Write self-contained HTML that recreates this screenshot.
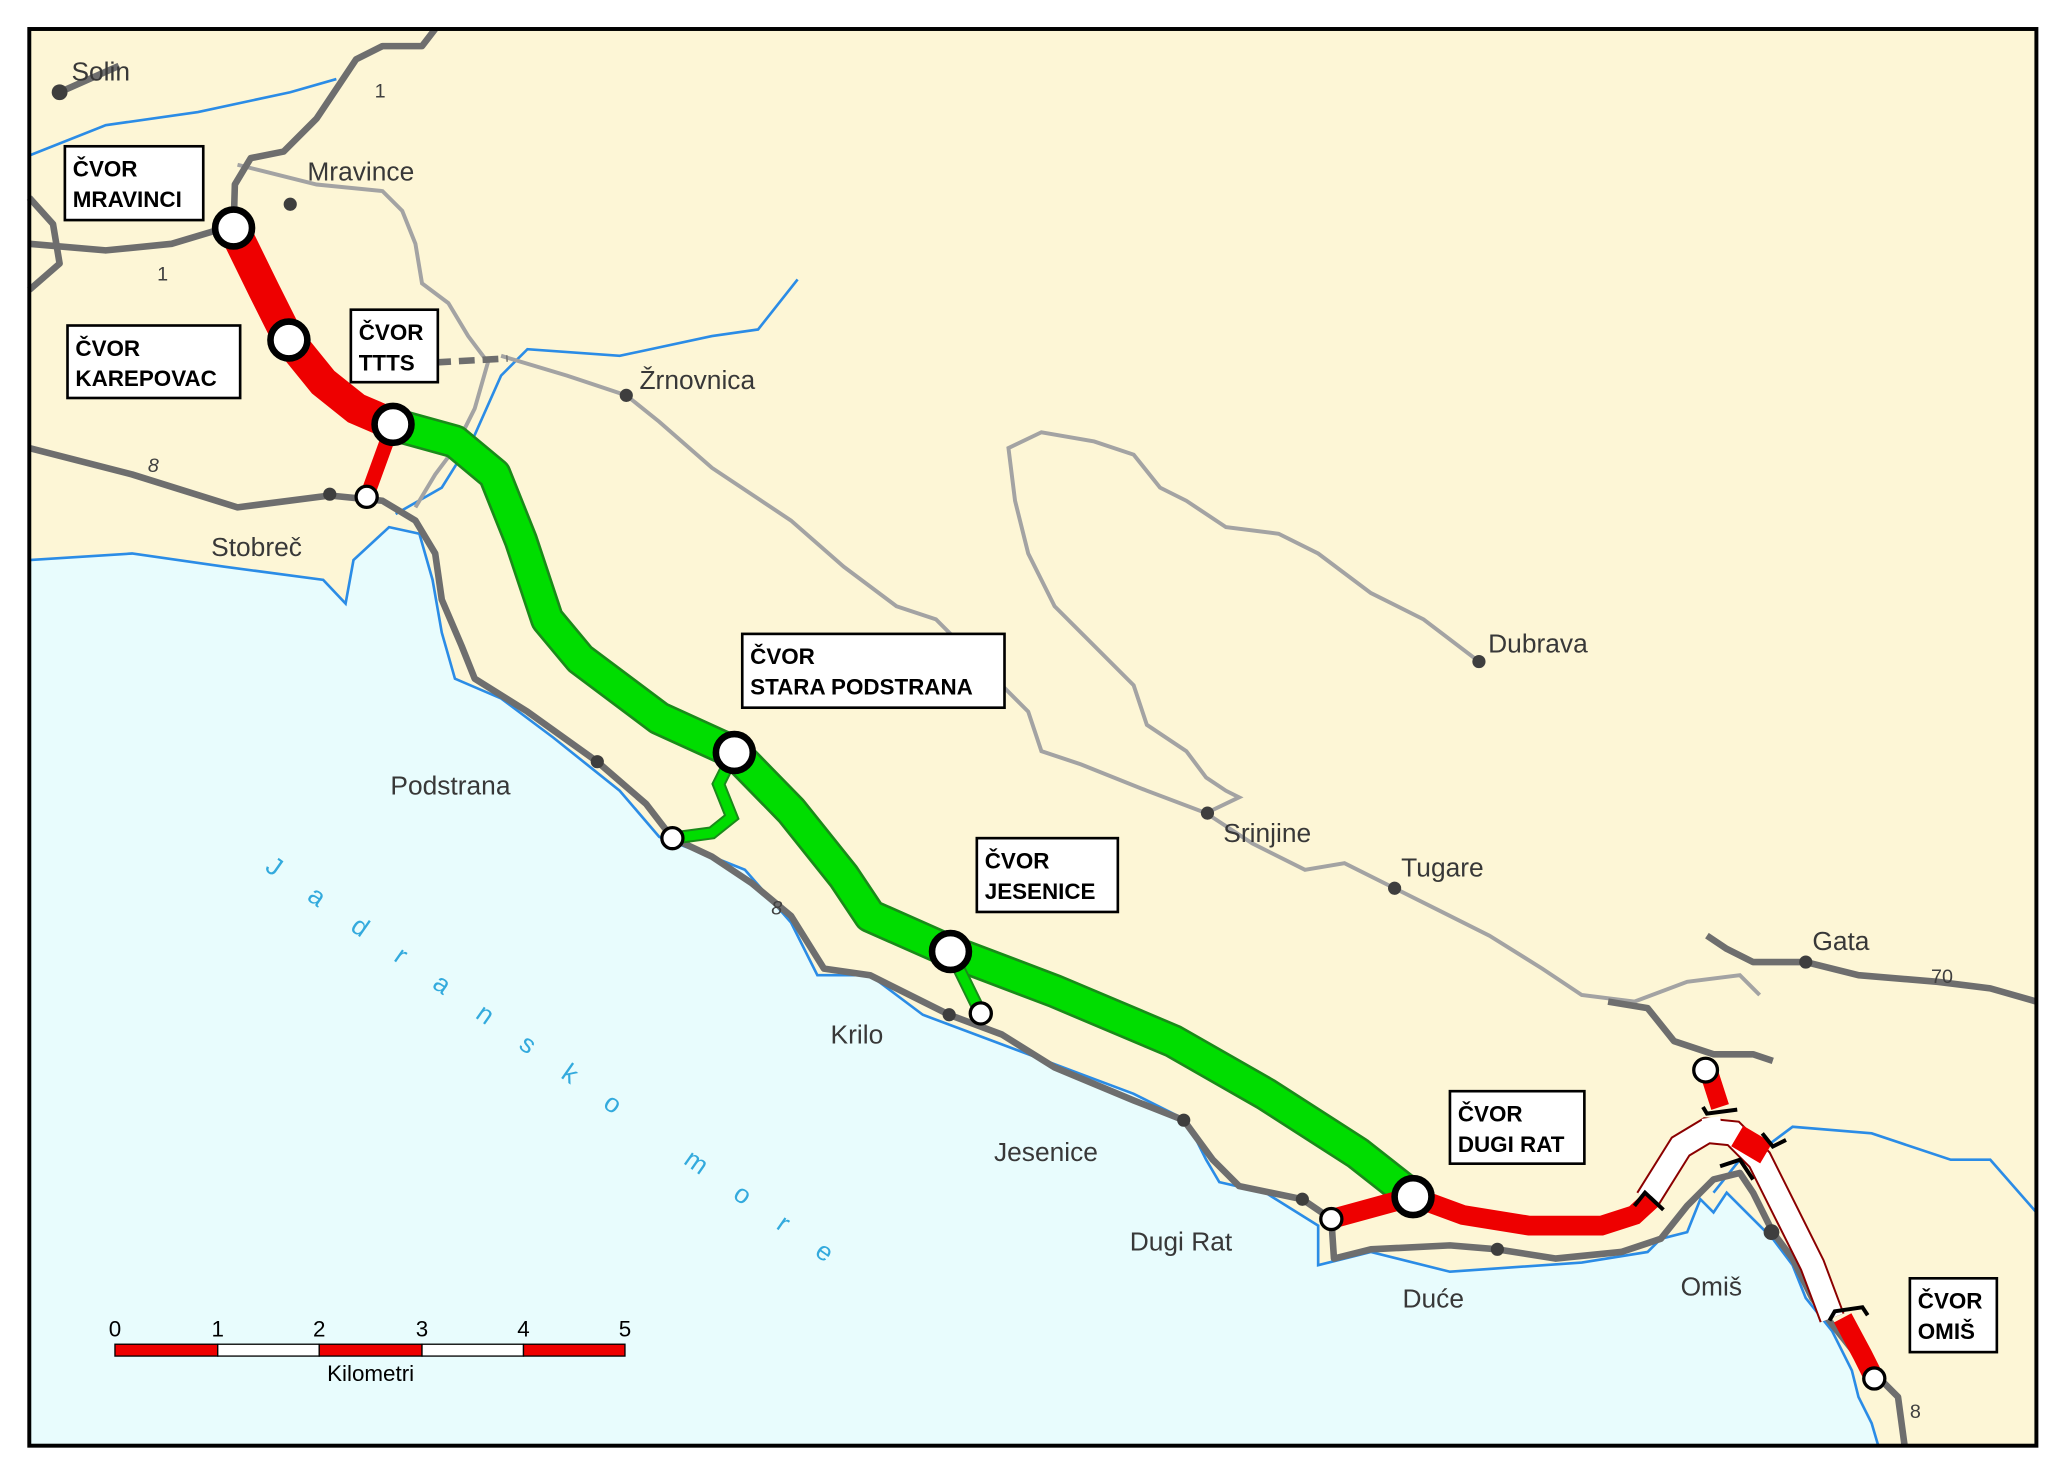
<!DOCTYPE html>
<html><head><meta charset="utf-8"><style>
html,body{margin:0;padding:0;background:#fff;}
svg{display:block;}
text{font-family:"Liberation Sans",sans-serif;}
.lbl{font-size:20px;fill:#383838;}
.box{font-size:17px;font-weight:bold;fill:#000;}
</style></head><body>
<svg width="2067" height="1476" viewBox="0 0 1568 1120" xmlns="http://www.w3.org/2000/svg">
<rect x="0" y="0" width="1568" height="1120" fill="#fff"/>
<rect x="22" y="22" width="1523" height="1075" fill="#fdf6d6"/>
<path d="M22,425 L100,420 L170,430 L245,440 L262,458 L268,425 L295,400 L318,405 L328,440 L335,480 L345,515 L380,530 L420,560 L470,600 L500,635 L540,650 L565,660 L600,700 L620,740 L660,740 L700,770 L740,785 L780,800 L820,815 L860,830 L900,850 L915,880 L925,897 L960,905 L1000,930 L1000,960 L1040,950 L1100,965 L1200,958 L1250,950 L1260,940 L1280,935 L1290,910 L1300,920 L1310,905 L1330,925 L1345,940 L1360,960 L1370,985 L1390,1010 L1405,1040 L1410,1060 L1420,1080 L1425,1097 L22,1097 Z" fill="#e8fcfd" stroke="#2b8ce6" stroke-width="2"/>
<g fill="none" stroke="#2b8ce6" stroke-width="2">
<path d="M22,118 L80,95 L150,85 L220,70 L255,60"/>
<path d="M300,390 L335,370 L360,330 L380,285 L400,265 L470,270 L540,255 L575,250 L605,212"/>
<path d="M1300,905 L1320,880 L1340,870 L1360,855 L1420,860 L1480,880 L1510,880 L1545,920"/>
</g>
<g fill="none" stroke="#a3a3a3" stroke-width="3">
<path d="M180,125 L200,130 L240,140 L290,145 L305,160 L315,185 L320,215 L340,230 L355,255 L370,275 L360,310 L345,340 L330,360 L315,385"/>
<path d="M380,270 L430,285 L475,300 L500,320 L540,355 L600,395 L640,430 L680,460 L710,470 L740,500 L780,540 L790,570 L820,580 L870,600 L915,617 L940,605 L930,600 L915,590 L900,570 L870,550 L860,520 L830,490 L800,460 L780,420 L770,380 L765,340 L790,328 L830,335 L860,345 L880,370 L900,380 L930,400 L970,405 L1000,420 L1040,450 L1080,470 L1122,502"/>
<path d="M915,617 L950,640 L990,660 L1020,655 L1058,674 L1090,690 L1130,710 L1170,735 L1200,755 L1240,760 L1280,745 L1320,740 L1335,755"/>
</g>
<g fill="none" stroke="#6e6e6e" stroke-width="5" stroke-linejoin="round">
<path d="M22,340 L100,360 L180,385 L250,376 L290,380 L315,395 L330,420 L335,455 L350,490 L360,515 L400,540 L453,578 L490,610 L510,636 L540,650 L570,670 L600,695 L625,735 L660,740 L720,770 L760,785 L800,810 L860,835 L898,850 L920,880 L940,900 L988,910 L1010,925"/>
<path d="M1010,925 L1012,955 L1040,948 L1100,945 L1136,948 L1180,955 L1230,950 L1260,940 L1280,915 L1300,895 L1320,890 L1330,905 L1345,935 L1360,955 L1375,985 L1390,1005 L1410,1030 L1425,1045 L1440,1060 L1445,1097"/>
<path d="M22,185 L80,190 L130,185 L170,173 M177,173 L178,140 L190,120 L215,115 L240,90 L270,45 L290,35 L320,35 L330,22"/>
<path d="M45,70 L90,50 M22,220 L45,200 L40,170 L22,150"/>
<path d="M1295,710 L1310,720 L1330,730 L1370,730 L1410,740 L1470,745 L1510,750 L1545,760"/>
<path d="M1220,760 L1250,765 L1270,790 L1300,800 L1330,800 L1345,805"/>
</g>
<path d="M330,275 L385,272" stroke="#6e6e6e" stroke-width="5" stroke-dasharray="12,6" fill="none"/>
<g fill="#3e3e3e">
<circle cx="45" cy="70" r="6"/><circle cx="220" cy="155" r="5"/><circle cx="475" cy="300" r="5"/>
<circle cx="250" cy="375" r="5"/><circle cx="453" cy="578" r="5"/><circle cx="720" cy="770" r="5"/>
<circle cx="898" cy="850" r="5"/><circle cx="988" cy="910" r="5"/><circle cx="1136" cy="948" r="5"/>
<circle cx="1344" cy="935" r="6"/><circle cx="1122" cy="502" r="5"/><circle cx="916" cy="617" r="5"/>
<circle cx="1058" cy="674" r="5"/><circle cx="1370" cy="730" r="5"/>
</g>
<path d="M1250,910 L1275,870 L1295,858 L1315,860 L1335,880 L1355,920 L1375,960 L1390,1000" fill="none" stroke="#8b0000" stroke-width="20"/>
<path d="M1250,910 L1275,870 L1295,858 L1315,860 L1335,880 L1355,920 L1375,960 L1390,1000" fill="none" stroke="#fff" stroke-width="17"/>
<path d="M1298,848 L1300,862" stroke="#fff" stroke-width="14"/>
<path d="M298,322 L345,335 L375,360 L395,410 L415,470 L440,500 L500,545 L557,571 L600,615 L640,665 L660,695 L721,722 L800,752 L890,790 L960,830 L1030,875 L1072,908" fill="none" stroke="#1a8a1a" stroke-width="26" stroke-linejoin="round"/>
<path d="M298,322 L345,335 L375,360 L395,410 L415,470 L440,500 L500,545 L557,571 L600,615 L640,665 L660,695 L721,722 L800,752 L890,790 L960,830 L1030,875 L1072,908" fill="none" stroke="#00dd00" stroke-width="22" stroke-linejoin="round"/>
<path d="M557,571 L545,595 L555,620 L540,632 L510,636" fill="none" stroke="#1a8a1a" stroke-width="10"/>
<path d="M557,571 L545,595 L555,620 L540,632 L510,636" fill="none" stroke="#00dd00" stroke-width="7"/>
<path d="M721,722 L744,769" stroke="#1a8a1a" stroke-width="10"/>
<path d="M721,722 L744,769" stroke="#00dd00" stroke-width="7"/>
<g fill="none" stroke="#ee0000" stroke-linecap="butt">
<path d="M177,173 L200,220 L219,258 L245,290 L270,310 L298,322" stroke-width="24"/>
<path d="M298,322 L278,377" stroke-width="11"/>
<path d="M1010,925 L1072,908 L1110,922 L1160,930 L1215,930 L1240,922 L1253,910" stroke-width="15"/>
<path d="M1296,812 L1305,840" stroke-width="14"/>
<path d="M1318,862 L1340,875" stroke-width="18"/>
<path d="M1398,1000 L1413,1028 L1422,1046" stroke-width="15"/>
</g>
<g fill="none" stroke="#000" stroke-width="3">
<path d="M1240,915 L1248,905 L1262,918"/>
<path d="M1292,840 L1295,845 L1318,842"/>
<path d="M1337,860 L1345,870 L1355,865"/>
<path d="M1305,885 L1320,880 L1330,895"/>
<path d="M1388,1002 L1392,995 L1413,992 L1417,998"/>
</g>
<g fill="#fff" stroke="#000">
<circle cx="177" cy="173" r="14" stroke-width="5"/>
<circle cx="219" cy="258" r="14" stroke-width="5"/>
<circle cx="298" cy="322" r="14" stroke-width="5"/>
<circle cx="557" cy="571" r="14" stroke-width="5"/>
<circle cx="721" cy="722" r="14" stroke-width="5"/>
<circle cx="1072" cy="908" r="14" stroke-width="5"/>
<circle cx="278" cy="377" r="8" stroke-width="2.5"/>
<circle cx="510" cy="636" r="8" stroke-width="2.5"/>
<circle cx="744" cy="769" r="8" stroke-width="2.5"/>
<circle cx="1010" cy="925" r="8" stroke-width="2.5"/>
<circle cx="1294" cy="812" r="9" stroke-width="2.5"/>
<circle cx="1422" cy="1046" r="8" stroke-width="2.5"/>
</g>
<g class="lbl">
<text x="54" y="61">Solin</text><text x="233" y="137">Mravince</text>
<text x="485" y="295">Žrnovnica</text><text x="160" y="422">Stobreč</text>
<text x="296" y="603">Podstrana</text><text x="630" y="792">Krilo</text>
<text x="754" y="881">Jesenice</text><text x="857" y="949">Dugi Rat</text>
<text x="1064" y="992">Duće</text><text x="1275" y="983">Omiš</text>
<text x="1129" y="495">Dubrava</text><text x="928" y="639">Srinjine</text>
<text x="1063" y="665">Tugare</text><text x="1375" y="721">Gata</text>
</g>
<g font-size="15" fill="#404040"><text x="284" y="74">1</text><text x="119" y="213">1</text>
<text x="112" y="358" font-style="italic">8</text><text x="585" y="694" font-style="italic">8</text>
<text x="1465" y="746">70</text><text x="1449" y="1076">8</text></g>
<g font-size="20" fill="#33aadd">
<text x="200" y="660" transform="rotate(35 200 660)" letter-spacing="29">Jadransko more</text>
</g>
<g fill="#fff" stroke="#000" stroke-width="2">
<rect x="49" y="111" width="105" height="56"/><rect x="51" y="247" width="131" height="55"/>
<rect x="266" y="235" width="66" height="55"/><rect x="563" y="481" width="199" height="56"/>
<rect x="741" y="636" width="107" height="56"/><rect x="1100" y="828" width="102" height="55"/>
<rect x="1449" y="970" width="66" height="56"/>
</g>
<g class="box">
<text x="55" y="134">ČVOR</text><text x="55" y="157">MRAVINCI</text>
<text x="57" y="270">ČVOR</text><text x="57" y="293">KAREPOVAC</text>
<text x="272" y="258">ČVOR</text><text x="272" y="281">TTTS</text>
<text x="569" y="504">ČVOR</text><text x="569" y="527">STARA PODSTRANA</text>
<text x="747" y="659">ČVOR</text><text x="747" y="682">JESENICE</text>
<text x="1106" y="851">ČVOR</text><text x="1106" y="874">DUGI RAT</text>
<text x="1455" y="993">ČVOR</text><text x="1455" y="1016">OMIŠ</text>
</g>
<g stroke="#000" stroke-width="1">
<rect x="87" y="1020" width="78" height="9" fill="#ee0000"/>
<rect x="165" y="1020" width="77" height="9" fill="#fff"/>
<rect x="242" y="1020" width="78" height="9" fill="#ee0000"/>
<rect x="320" y="1020" width="77" height="9" fill="#fff"/>
<rect x="397" y="1020" width="77" height="9" fill="#ee0000"/>
</g>
<g font-size="17" fill="#000" text-anchor="middle">
<text x="87" y="1014">0</text><text x="165" y="1014">1</text><text x="242" y="1014">2</text>
<text x="320" y="1014">3</text><text x="397" y="1014">4</text><text x="474" y="1014">5</text>
<text x="281" y="1048">Kilometri</text></g>
<rect x="22" y="22" width="1523" height="1075" fill="none" stroke="#000" stroke-width="3"/>
</svg>
</body></html>
